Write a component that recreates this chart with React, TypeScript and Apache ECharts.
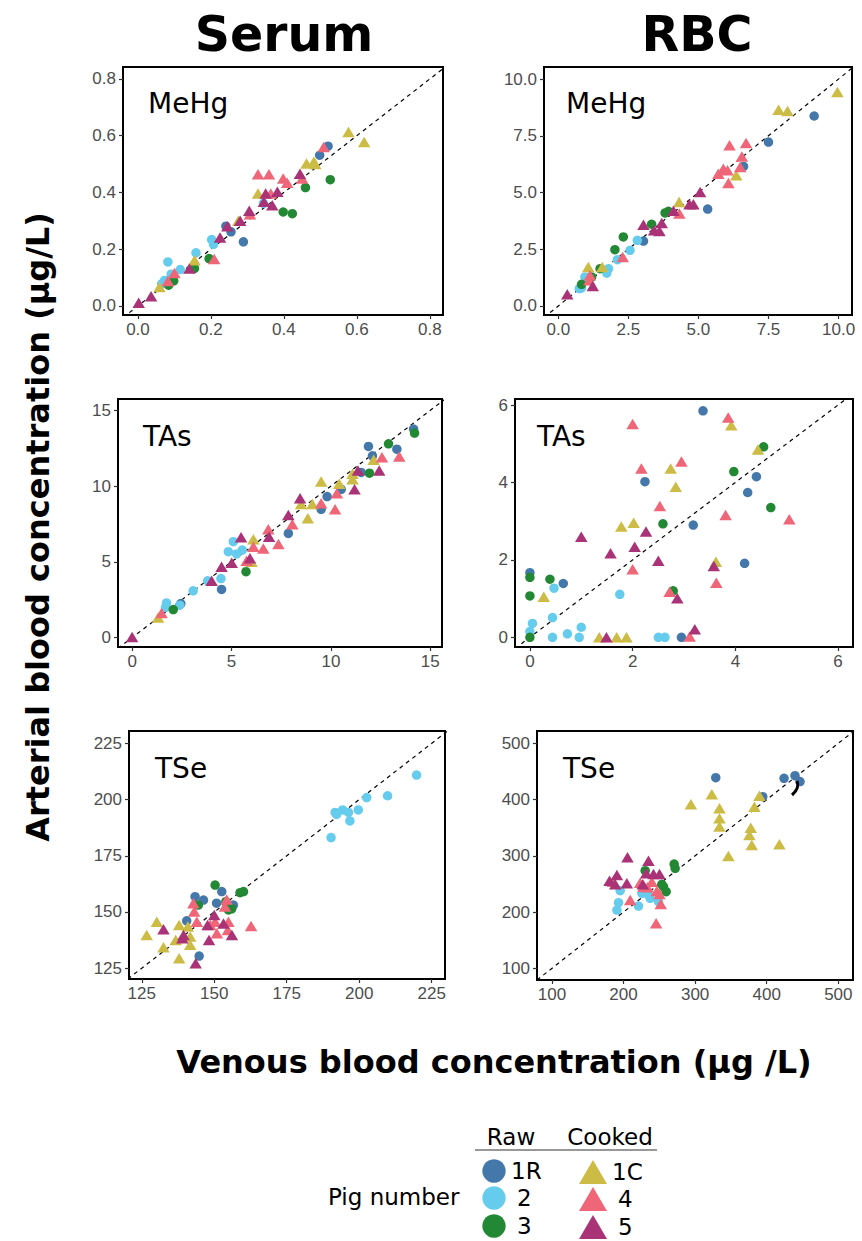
import React, { useEffect, useRef } from "react";
import * as echarts from "echarts";

// ---- Pig groups ----
const PIGS = ["1R", "2", "3", "1C", "4", "5"];
const PIG_COLORS = ["#4477AA", "#66CCEE", "#228833", "#CCBB44", "#EE6677", "#AA3377"];
const PIG_SHAPES = ["circle", "circle", "circle", "triangle", "triangle", "triangle"];

// ---- Serum MeHg (venous, arterial) ----
const serumMeHg1R = [[0.521, 0.563], [0.498, 0.531], [0.241, 0.281], [0.255, 0.261], [0.289, 0.226]];
const serumMeHg2 = [[0.082, 0.155], [0.159, 0.187], [0.202, 0.234], [0.207, 0.217], [0.073, 0.09], [0.091, 0.112], [0.116, 0.128], [0.344, 0.361], [0.065, 0.078]];
const serumMeHg3 = [[0.527, 0.445], [0.459, 0.417], [0.398, 0.331], [0.423, 0.325], [0.195, 0.167], [0.155, 0.132], [0.098, 0.088], [0.084, 0.073]];
const serumMeHg1C = [[0.577, 0.613], [0.62, 0.578], [0.462, 0.502], [0.482, 0.508], [0.486, 0.5], [0.329, 0.396], [0.275, 0.3], [0.155, 0.161], [0.059, 0.067]];
const serumMeHg4 = [[0.329, 0.464], [0.359, 0.464], [0.398, 0.449], [0.409, 0.434], [0.364, 0.396], [0.307, 0.323], [0.209, 0.165], [0.1, 0.116], [0.082, 0.088], [0.45, 0.449], [0.509, 0.56]];
const serumMeHg5 = [[0.002, 0.011], [0.036, 0.034], [0.141, 0.132], [0.225, 0.241], [0.245, 0.281], [0.28, 0.3], [0.305, 0.335], [0.345, 0.367], [0.35, 0.396], [0.368, 0.355], [0.382, 0.402], [0.444, 0.466]];

// ---- RBC MeHg ----
const rbcMeHg1R = [[9.13, 8.37], [7.5, 7.22], [6.61, 6.15], [5.33, 4.27], [3.04, 2.86]];
const rbcMeHg2 = [[2.82, 2.89], [2.56, 2.45], [2.11, 2.04], [1.79, 1.64], [1.73, 1.45], [0.95, 1.28], [0.83, 0.79], [0.75, 0.76]];
const rbcMeHg3 = [[3.93, 4.17], [3.81, 4.1], [3.33, 3.6], [2.32, 3.04], [2.02, 2.48], [1.49, 1.64], [1.19, 1.28], [0.83, 0.95]];
const rbcMeHg1C = [[9.96, 9.43], [7.86, 8.65], [8.18, 8.59], [6.35, 5.76], [4.31, 4.58], [1.57, 1.72], [1.07, 1.72]];
const rbcMeHg4 = [[6.11, 7.08], [6.7, 7.18], [6.55, 6.59], [6.49, 6.12], [5.89, 6.05], [5.71, 5.83], [6.04, 5.98], [6.07, 5.42], [4.32, 4.07], [2.3, 2.16], [1.13, 1.35], [1.11, 1.13]];
const rbcMeHg5 = [[5.06, 5.02], [4.82, 4.48], [4.68, 4.48], [4.11, 4.19], [3.04, 3.58], [3.69, 3.66], [3.42, 3.33], [3.61, 3.3], [1.23, 0.88], [0.32, 0.51]];

// ---- Serum TAs ----
const serumTAs1R = [[14.16, 13.77], [13.32, 12.44], [11.89, 12.62], [12.09, 12.0], [11.52, 10.9], [10.52, 9.79], [9.81, 9.31], [9.51, 8.47], [7.86, 6.88], [4.5, 3.18], [2.45, 2.25]];
const serumTAs2 = [[5.09, 6.33], [4.84, 5.67], [5.26, 5.52], [5.54, 5.78], [4.47, 3.9], [3.8, 3.75], [3.07, 3.09], [1.73, 2.29], [1.68, 1.99], [2.4, 2.14]];
const serumTAs3 = [[14.21, 13.5], [12.9, 12.79], [11.94, 10.85], [5.73, 4.35], [2.07, 1.85]];
const serumTAs1C = [[9.51, 10.3], [10.42, 10.15], [11.09, 10.46], [11.09, 10.81], [12.15, 11.74], [8.5, 8.82], [9.07, 8.82], [8.84, 7.88], [6.1, 6.49], [6.01, 5.01], [1.31, 1.32]];
const serumTAs4 = [[12.57, 11.91], [13.44, 11.96], [10.3, 9.53], [10.21, 8.47], [9.51, 8.87], [8.06, 7.48], [6.85, 7.15], [7.36, 6.18], [6.6, 5.89], [6.1, 6.0], [5.76, 5.07], [1.48, 1.63]];
const serumTAs5 = [[0.0, 0.04], [8.45, 9.2], [7.86, 8.1], [6.89, 6.66], [5.48, 6.62], [5.93, 5.23], [5.01, 4.94], [4.5, 4.68], [4.0, 3.75], [11.36, 11.03], [12.43, 11.03], [11.19, 9.79]];

// ---- RBC TAs ----
const rbcTAs1R = [[3.37, 5.85], [2.24, 4.02], [4.41, 4.15], [4.24, 3.74], [3.18, 2.9], [4.18, 1.91], [0.65, 1.39], [0.0, 1.67], [2.95, 0.0]];
const rbcTAs2 = [[0.47, 1.27], [1.75, 1.11], [0.44, 0.51], [0.05, 0.36], [0.0, 0.15], [0.44, 0.0], [0.73, 0.09], [1.0, 0.26], [0.96, 0.0], [2.5, 0.0], [2.63, 0.0]];
const rbcTAs3 = [[4.55, 4.92], [3.97, 4.28], [4.69, 3.35], [2.59, 2.93], [2.79, 1.2], [0.39, 1.5], [0.0, 1.55], [0.0, 1.07], [0.0, 0.0]];
const rbcTAs1C = [[3.92, 5.48], [4.44, 4.85], [2.74, 4.36], [2.84, 3.89], [1.78, 2.86], [2.02, 2.96], [3.62, 1.95], [0.27, 1.05], [1.35, 0.0], [1.69, 0.0], [1.88, 0.0]];
const rbcTAs4 = [[2.0, 5.51], [3.86, 5.68], [2.17, 4.36], [2.95, 4.54], [2.53, 3.39], [3.81, 3.16], [5.05, 3.05], [2.0, 1.76], [3.63, 1.41], [2.72, 1.18], [3.11, 0.02]];
const rbcTAs5 = [[1.0, 2.6], [1.57, 2.17], [2.04, 2.34], [2.26, 2.73], [2.5, 1.98], [3.58, 1.84], [2.87, 1.01], [3.21, 0.21], [1.49, 0.0]];

// ---- Serum TSe ----
const serumTSe1R = [[144.8, 130.4], [143.4, 156.8], [146.3, 155.3], [152.6, 159.1], [150.8, 153.9], [156.6, 153.1], [140.5, 146.1]];
const serumTSe2 = [[219.8, 210.9], [209.8, 201.7], [202.6, 200.9], [199.7, 195.4], [196.3, 194.3], [194.3, 195.4], [191.7, 194.3], [192.2, 193.4], [196.8, 190.5], [190.3, 183.1]];
const serumTSe3 = [[150.3, 162.0], [158.9, 158.6], [160.1, 159.1], [154.9, 150.9], [155.5, 152.0], [156.0, 151.4], [144.5, 153.1], [154.0, 154.6]];
const serumTSe1C = [[126.7, 139.8], [130.2, 145.7], [132.5, 134.3], [136.7, 137.6], [137.9, 144.2], [141.7, 139.1], [141.7, 135.4], [137.9, 129.4], [140.9, 143.5]];
const serumTSe4 = [[162.7, 143.8], [154.3, 155.6], [142.8, 153.9], [143.1, 150.2], [144.0, 145.7], [153.7, 152.4], [150.3, 145.7], [150.9, 140.6], [154.9, 145.7], [154.7, 142.0], [148.6, 144.2]];
const serumTSe5 = [[132.5, 142.3], [139.0, 138.3], [139.4, 139.8], [143.6, 127.2], [148.2, 137.6], [147.7, 144.2], [150.0, 148.7], [156.1, 139.8], [153.2, 144.9]];

// ---- RBC TSe ----
const rbcTSe1R = [[328.8, 439.0], [424.2, 437.8], [439.5, 442.5], [446.5, 431.9], [394.4, 405.2]];
const rbcTSe2 = [[195.3, 238.0], [193.0, 216.7], [190.7, 203.6], [220.9, 210.7], [237.2, 224.4], [248.8, 218.5], [234.9, 230.4], [225.6, 233.3]];
const rbcTSe3 = [[270.7, 285.4], [272.1, 277.7], [230.2, 273.6], [255.8, 245.1], [259.5, 236.2], [253.5, 249.3]];
const rbcTSe1C = [[323.3, 409.3], [294.0, 391.6], [334.0, 384.4], [334.0, 366.7], [334.0, 351.9], [389.8, 407.0], [382.8, 387.4], [377.7, 350.1], [375.8, 337.0], [379.1, 319.3], [417.7, 320.4], [346.5, 299.7]];
const rbcTSe4 = [[185.1, 254.0], [223.2, 252.2], [239.5, 254.0], [233.4, 243.9], [250.2, 232.1], [252.0, 214.3], [209.3, 221.4], [245.5, 180.0], [227.9, 245.2], [246.5, 237.5]];
const rbcTSe5 = [[205.5, 297.3], [234.8, 291.3], [190.7, 265.8], [180.4, 255.7], [204.6, 251.0], [231.6, 268.8], [241.8, 267.6], [250.2, 267.6], [226.9, 249.3], [188.4, 249.3]];

// ---- Tick values ----
const ticksSerumMeHg = [0, 0.2, 0.4, 0.6, 0.8];
const ticksRbcMeHg = [0, 2.5, 5, 7.5, 10];
const ticksSerumTAs = [0, 5, 10, 15];
const ticksRbcTAs = [0, 2, 4, 6];
const ticksSerumTSe = [125, 150, 175, 200, 225];
const ticksRbcTSe = [100, 200, 300, 400, 500];

const FONT_TEXT = "'DejaVu Sans', Verdana, sans-serif";
const FONT_TICK = "'Liberation Sans', Arial, Helvetica, sans-serif";

type Panel = {
  name: string;
  groups: number[][][];
  ticks: number[];
  decimals: number;
  grid: { left: number; top: number; width: number; height: number };
  x: [number, number];
  y: [number, number];
  labelPos: [number, number];
};

const panels: Panel[] = [
  {
    name: "MeHg",
    groups: [serumMeHg1R, serumMeHg2, serumMeHg3, serumMeHg1C, serumMeHg4, serumMeHg5],
    ticks: ticksSerumMeHg, decimals: 1,
    grid: { left: 123, top: 67, width: 320, height: 248 },
    x: [-0.041, 0.836], y: [-0.032, 0.842], labelPos: [148, 103],
  },
  {
    name: "MeHg",
    groups: [rbcMeHg1R, rbcMeHg2, rbcMeHg3, rbcMeHg1C, rbcMeHg4, rbcMeHg5],
    ticks: ticksRbcMeHg, decimals: 1,
    grid: { left: 544, top: 67, width: 308, height: 248 },
    x: [-0.51, 10.48], y: [-0.4, 10.53], labelPos: [566, 103],
  },
  {
    name: "TAs",
    groups: [serumTAs1R, serumTAs2, serumTAs3, serumTAs1C, serumTAs4, serumTAs5],
    ticks: ticksSerumTAs, decimals: 0,
    grid: { left: 118, top: 399, width: 324, height: 248 },
    x: [-0.71, 15.59], y: [-0.62, 15.75], labelPos: [143, 436],
  },
  {
    name: "TAs",
    groups: [rbcTAs1R, rbcTAs2, rbcTAs3, rbcTAs1C, rbcTAs4, rbcTAs5],
    ticks: ticksRbcTAs, decimals: 0,
    grid: { left: 515, top: 399, width: 338, height: 248 },
    x: [-0.29, 6.29], y: [-0.25, 6.155], labelPos: [537, 436],
  },
  {
    name: "TSe",
    groups: [serumTSe1R, serumTSe2, serumTSe3, serumTSe1C, serumTSe4, serumTSe5],
    ticks: ticksSerumTSe, decimals: 0,
    grid: { left: 129, top: 731, width: 316, height: 248 },
    x: [120.6, 229.6], y: [120.2, 230.5], labelPos: [155, 768],
  },
  {
    name: "TSe",
    groups: [rbcTSe1R, rbcTSe2, rbcTSe3, rbcTSe1C, rbcTSe4, rbcTSe5],
    ticks: ticksRbcTSe, decimals: 0,
    grid: { left: 537, top: 731, width: 316, height: 249 },
    x: [79.1, 520.5], y: [79.2, 521.9], labelPos: [563, 768],
  },
];

function buildOption() {
  const grids: any[] = [];
  const xAxes: any[] = [];
  const yAxes: any[] = [];
  const series: any[] = [];
  const graphic: any[] = [];

  panels.forEach((p, i) => {
    grids.push({
      ...p.grid,
      show: true,
      borderColor: "#000",
      borderWidth: 2,
      backgroundColor: "#fff",
      containLabel: false,
    });
    const fmt = (v: number) => v.toFixed(p.decimals);
    const axisCommon = (isX: boolean) => ({
      type: "value",
      gridIndex: i,
      splitLine: { show: false },
      axisLine: { show: false, onZero: false },
      axisTick: {
        show: true,
        length: 4,
        customValues: p.ticks,
        lineStyle: { color: "#333", width: 1.2 },
      },
      axisLabel: {
        customValues: p.ticks,
        formatter: fmt,
        color: "#4D4D4D",
        fontSize: 17,
        fontFamily: FONT_TICK,
        margin: isX ? 6 : 7,
        hideOverlap: false,
      },
    });
    xAxes.push({ ...axisCommon(true), min: p.x[0], max: p.x[1] });
    yAxes.push({ ...axisCommon(false), min: p.y[0], max: p.y[1] });

    // identity line
    const lo = Math.min(p.x[0], p.y[0]);
    const hi = Math.max(p.x[1], p.y[1]);
    series.push({
      type: "line",
      xAxisIndex: i,
      yAxisIndex: i,
      data: [[lo, lo], [hi, hi]],
      symbol: "none",
      clip: true,
      silent: true,
      z: 1,
      lineStyle: { color: "#000", width: 1.2, type: [4, 4] },
    });

    p.groups.forEach((g, k) => {
      series.push({
        type: "scatter",
        name: PIGS[k],
        xAxisIndex: i,
        yAxisIndex: i,
        data: g,
        symbol: PIG_SHAPES[k],
        symbolSize: PIG_SHAPES[k] === "circle" ? 9.5 : [12.5, 10.5],
        itemStyle: { color: PIG_COLORS[k], opacity: 1 },
        z: 2,
      });
    });

    graphic.push({
      type: "text",
      x: p.labelPos[0],
      y: p.labelPos[1],
      z: 10,
      style: {
        text: p.name,
        fill: "#000",
        fontSize: 28,
        fontFamily: FONT_TEXT,
        align: "left",
        verticalAlign: "middle",
      },
    });
  });

  // column titles
  graphic.push(
    {
      type: "text", x: 284, y: 34,
      style: { text: "Serum", fill: "#000", fontSize: 49, fontWeight: "bold", fontFamily: FONT_TEXT, align: "center", verticalAlign: "middle" },
    },
    {
      type: "text", x: 697, y: 34,
      style: { text: "RBC", fill: "#000", fontSize: 49, fontWeight: "bold", fontFamily: FONT_TEXT, align: "center", verticalAlign: "middle" },
    },
    {
      type: "text", x: 38, y: 527, rotation: Math.PI / 2,
      style: { text: "Arterial blood concentration (µg/L)", fill: "#000", fontSize: 32, fontWeight: "bold", fontFamily: FONT_TEXT, align: "center", verticalAlign: "middle" },
    },
    {
      type: "text", x: 494, y: 1062,
      style: { text: "Venous blood concentration (µg /L)", fill: "#000", fontSize: 32, fontWeight: "bold", fontFamily: FONT_TEXT, align: "center", verticalAlign: "middle" },
    }
  );

  // small stroke near the top-right of the RBC TSe panel
  graphic.push({
    type: "bezierCurve",
    z: 10,
    shape: { x1: 797, y1: 781, x2: 792, y2: 795, cpx1: 800, cpy1: 788 },
    style: { stroke: "#000", lineWidth: 3, fill: "none" },
  });

  // legend
  const legendText = (text: string, x: number, y: number, align = "left") => ({
    type: "text", x, y,
    style: { text, fill: "#000", fontSize: 23, fontFamily: FONT_TEXT, align, verticalAlign: "middle" },
  });
  graphic.push(legendText("Pig number", 328, 1197));
  graphic.push(legendText("Raw", 511, 1137, "center"));
  graphic.push(legendText("Cooked", 610, 1137, "center"));
  graphic.push({
    type: "line",
    shape: { x1: 475, y1: 1150, x2: 657, y2: 1150 },
    style: { stroke: "#333", lineWidth: 1.2 },
  });
  const rowY = [1171, 1198, 1226];
  const rawLabelX = [511, 517, 517];
  const cookedLabelX = [612, 618, 618];
  for (let r = 0; r < 3; r++) {
    graphic.push({
      type: "circle",
      shape: { cx: 494, cy: rowY[r], r: 11.7 },
      style: { fill: PIG_COLORS[r] },
    });
    graphic.push(legendText(PIGS[r], rawLabelX[r], rowY[r]));
    const cy = rowY[r] + 1;
    graphic.push({
      type: "polygon",
      shape: { points: [[593, cy - 12], [607, cy + 12], [579, cy + 12]] },
      style: { fill: PIG_COLORS[r + 3] },
    });
    graphic.push(legendText(PIGS[r + 3], cookedLabelX[r], rowY[r] + 1));
  }

  return {
    animation: false,
    backgroundColor: "#fff",
    grid: grids,
    xAxis: xAxes,
    yAxis: yAxes,
    series,
    graphic,
  };
}

export default function App() {
  const ref = useRef<HTMLDivElement>(null);
  useEffect(() => {
    document.body.style.margin = "0";
    if (!ref.current) return;
    const chart = echarts.init(ref.current, undefined, { renderer: "svg" });
    chart.setOption(buildOption());
    return () => chart.dispose();
  }, []);
  return <div ref={ref} style={{ width: 862, height: 1241 }} />;
}
